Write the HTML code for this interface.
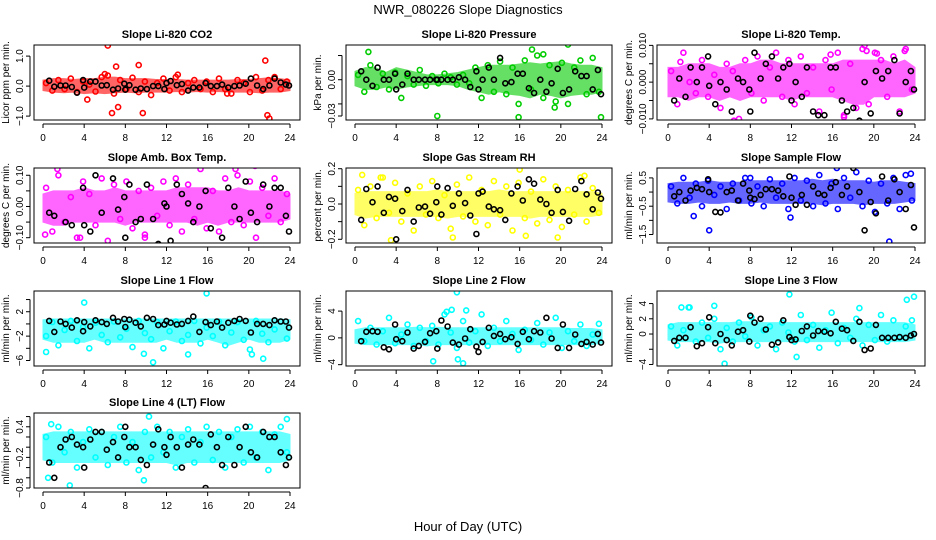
<!DOCTYPE html>
<html><head><meta charset="utf-8">
<style>
html,body{margin:0;padding:0;background:#fff;}
svg{display:block;font-family:"Liberation Sans",sans-serif;}
</style></head>
<body>
<svg id="chart" width="936" height="540" viewBox="0 0 936 540" xmlns="http://www.w3.org/2000/svg">
<text x="468" y="14" font-size="13" text-anchor="middle">NWR_080226  Slope Diagnostics</text>
<text x="468" y="531" font-size="13" text-anchor="middle">Hour of Day (UTC)</text>
</svg>
<script>
const colorHours=[0.3,0.9,1.5,2.1,2.7,3.3,3.9,4.5,5.1,5.7,6.3,6.9,7.5,8.1,8.7,9.3,9.9,10.5,11.1,11.7,12.3,12.9,13.5,14.1,14.7,15.3,15.9,16.5,17.1,17.7,18.3,18.9,19.5,20.1,20.7,21.3,21.9,22.5,23.1,23.7];
const blackHours=[0.6,1.1,1.7,2.2,2.8,3.3,3.9,4.0,4.6,5.1,5.7,6.2,6.8,7.3,7.9,8.0,8.4,9.0,9.5,10.1,10.7,11.2,11.8,12.0,12.4,13.0,13.5,14.1,14.6,15.2,15.8,16.3,16.9,17.4,18.0,18.6,19.1,19.7,20.2,20.8,21.4,22.0,22.5,23.1,23.6,23.9];
const bandHours=[0,1,2,3,4,5,6,7,8,9,10,11,12,13,14,15,16,17,18,19,20,21,22,23,24];
const xTicks=[0,4,8,12,16,20,24];

const co2Color=[0.1,-0.15,0.2,-0.1,0.25,-0.2,0.15,0.05,-0.18,0.3,0.35,-0.25,0.2,-0.1,0.28,-0.2,0.15,-0.3,0.1,0.25,-0.15,0.3,-0.2,0.1,0.2,-0.1,0.15,-0.2,0.25,-0.1,-0.25,0.2,0.1,-0.2,0.3,-0.15,0.2,0.3,-0.1,0.15];
const co2Black=[0.18,-0.02,0.02,0.02,-0.03,-0.22,0.2,-0.05,0.15,0.15,0.02,0.03,-0.12,-0.08,0.08,-0.12,0.03,-0.12,-0.08,-0.1,0.0,0.0,-0.1,0.1,0.17,0.03,0.07,-0.15,-0.05,-0.05,0.1,0.0,0.0,0.05,-0.05,0.0,0.02,0.08,0.25,0.02,-0.1,0.02,0.25,0.12,0.05,0.02];
const co2OutX=[6.3,7.1,9.3,21.6,6.7,9.7,7.3,4.3,21.8,22.0,13.1,6.0,17.9];
const co2OutY=[1.35,0.65,0.7,0.85,-0.9,-0.9,-0.7,-0.45,-0.97,-1.08,0.38,0.4,-0.25];
const co2Lo=[-0.15,-0.2,-0.22,-0.2,-0.25,-0.22,-0.25,-0.22,-0.2,-0.22,-0.2,-0.2,-0.2,-0.18,-0.2,-0.18,-0.2,-0.18,-0.2,-0.2,-0.2,-0.22,-0.2,-0.2,-0.15];
const co2Hi=[0.2,0.25,0.25,0.22,0.25,0.25,0.3,0.3,0.25,0.25,0.25,0.22,0.22,0.22,0.2,0.2,0.2,0.2,0.2,0.22,0.22,0.25,0.28,0.25,0.2];

const presColor=[0.004,-0.01,0.012,-0.006,0.005,-0.008,0.006,-0.015,0.003,-0.004,0.008,-0.005,0.003,-0.003,0.005,0.002,-0.004,0.004,-0.003,0.01,-0.015,0.012,-0.01,0.015,-0.012,0.01,-0.02,0.016,-0.008,0.02,-0.015,0.012,-0.018,0.014,-0.02,0.01,0.016,-0.012,0.018,-0.01];
const presBlack=[0.007,0.0,-0.005,0.01,0.0,0.0,0.005,-0.008,-0.004,0.005,0.0,0.0,0.0,0.0,0.0,0.0,0.0,0.0,0.0,0.002,0.0,-0.006,0.007,-0.008,0.0,0.01,0.0,0.018,-0.003,-0.002,0.005,0.005,-0.007,-0.011,0.0,-0.01,-0.003,0.009,-0.011,-0.008,0.007,0.003,0.003,-0.008,0.008,-0.012];
const presOutX=[1.3,8.0,15.9,23.9,17.2,20.7,19.4,18.3];
const presOutY=[0.023,-0.03,-0.031,-0.031,0.025,0.029,-0.023,0.021];
const presLo=[-0.005,-0.008,-0.008,-0.006,-0.008,-0.006,-0.005,-0.004,-0.004,-0.004,-0.005,-0.008,-0.01,-0.012,-0.01,-0.012,-0.013,-0.015,-0.012,-0.013,-0.015,-0.013,-0.012,-0.012,-0.01];
const presHi=[0.007,0.01,0.01,0.006,0.01,0.008,0.006,0.004,0.004,0.005,0.006,0.008,0.01,0.012,0.012,0.012,0.013,0.014,0.013,0.014,0.015,0.013,0.012,0.012,0.01];

const tempColor=[0.003,-0.006,0.008,0.0,-0.003,0.006,-0.004,0.002,-0.007,0.005,0.003,-0.01,0.006,-0.003,0.007,-0.005,0.004,0.008,-0.004,0.006,-0.006,0.007,-0.003,0.004,-0.008,0.006,-0.002,0.008,-0.009,0.005,-0.007,0.009,-0.006,0.008,0.006,-0.004,0.007,-0.008,0.009,-0.002];
const tempBlack=[-0.005,0.001,-0.004,0.004,0.0,0.004,0.007,-0.001,-0.006,0.0,-0.002,-0.008,0.001,0.0,-0.002,-0.008,0.008,0.001,0.005,0.007,0.001,0.004,0.005,-0.005,0.0,-0.004,0.004,-0.008,-0.009,-0.009,0.004,0.004,-0.005,-0.008,-0.007,-0.0105,0.0,-0.0085,0.003,0.001,0.003,0.006,-0.0085,0.0,0.003,-0.002];
const tempOutX=[6.4,19.1,19.3,17.1,23.0,1.2,15.8,20.3];
const tempOutY=[-0.0105,0.01,0.0085,-0.0095,0.0085,0.0055,0.0075,0.0078];
const tempLo=[-0.004,-0.004,-0.005,-0.004,-0.004,-0.005,-0.004,-0.005,-0.004,-0.004,-0.004,-0.004,-0.005,-0.004,-0.004,-0.004,-0.004,-0.005,-0.006,-0.006,-0.004,-0.004,-0.004,-0.004,-0.003];
const tempHi=[0.004,0.004,0.005,0.005,0.005,0.004,0.004,0.005,0.005,0.006,0.006,0.005,0.005,0.005,0.005,0.005,0.005,0.006,0.006,0.006,0.006,0.006,0.005,0.006,0.004];

const ambColor=[0.06,-0.08,0.1,-0.05,0.03,-0.1,0.08,0.04,-0.06,0.09,-0.11,0.07,-0.04,0.08,-0.07,0.05,-0.09,0.06,-0.03,0.08,-0.06,0.09,-0.08,0.07,-0.04,0.12,-0.07,0.05,-0.08,0.09,-0.05,0.1,-0.06,0.08,-0.1,0.06,-0.03,0.09,-0.05,0.04];
const ambBlack=[-0.02,-0.03,-0.13,-0.05,-0.06,0.15,0.06,-0.06,-0.08,0.1,-0.02,-0.17,0.09,-0.01,0.03,-0.1,0.07,-0.05,-0.04,0.07,-0.04,-0.12,0.01,0.0,-0.11,0.07,0.04,0.01,-0.05,0.0,0.05,-0.07,-0.13,-0.1,0.06,0.0,-0.04,0.08,-0.02,-0.05,0.07,0.0,0.06,0.06,-0.03,-0.08];
const ambOutX=[0.2,2.3,13.9,20.6,6.9,9.9,3.6,18.7,1.4];
const ambOutY=[-0.09,-0.13,0.15,0.13,-0.13,-0.1,-0.1,0.12,0.12];
const ambLo=[-0.05,-0.06,-0.06,-0.05,-0.05,-0.05,-0.05,-0.05,-0.06,-0.05,-0.05,-0.05,-0.05,-0.05,-0.05,-0.06,-0.05,-0.06,-0.05,-0.05,-0.05,-0.05,-0.05,-0.05,-0.04];
const ambHi=[0.04,0.05,0.05,0.05,0.06,0.05,0.05,0.06,0.05,0.05,0.05,0.05,0.05,0.06,0.06,0.06,0.06,0.05,0.05,0.06,0.05,0.05,0.05,0.05,0.04];

const rhColor=[0.08,-0.12,0.1,-0.08,0.15,-0.05,0.12,-0.1,0.06,-0.15,0.1,-0.06,0.13,-0.08,0.05,-0.14,0.11,-0.07,0.15,-0.1,0.08,-0.12,0.13,-0.06,0.1,-0.15,0.12,-0.08,0.07,-0.11,0.14,-0.09,0.1,-0.13,0.08,-0.06,0.15,-0.1,0.09,-0.05];
const rhBlack=[-0.09,0.085,0.01,0.1,-0.05,0.04,0.03,-0.2,-0.04,0.08,-0.1,-0.02,-0.015,-0.055,0.01,0.1,-0.06,0.09,-0.01,0.06,0.005,-0.065,-0.17,0.06,0.07,-0.015,-0.03,-0.035,-0.09,0.06,0.1,0.02,0.14,0.115,0.025,0.0,-0.05,0.08,-0.045,-0.095,0.085,0.13,0.055,-0.03,0.065,0.03];
const rhOutX=[0.7,3.5,9.5,16.0,16.6,19.7,22.3,2.5];
const rhOutY=[0.165,-0.205,-0.19,0.195,-0.18,-0.19,0.16,0.15];
const rhLo=[-0.06,-0.08,-0.07,-0.07,-0.07,-0.07,-0.07,-0.07,-0.07,-0.08,-0.07,-0.07,-0.07,-0.07,-0.07,-0.07,-0.07,-0.08,-0.07,-0.07,-0.07,-0.07,-0.07,-0.07,-0.06];
const rhHi=[0.06,0.07,0.07,0.07,0.07,0.07,0.07,0.07,0.08,0.07,0.07,0.07,0.07,0.07,0.08,0.07,0.07,0.07,0.07,0.07,0.07,0.07,0.07,0.07,0.06];

const sfColor=[0.2,-0.4,0.5,-0.2,0.3,-0.5,0.4,-0.1,0.2,-0.6,0.3,-0.3,0.5,-0.4,0.2,-0.5,0.45,-0.2,0.3,-0.6,0.5,-0.3,0.4,-0.5,0.6,-0.4,0.3,-0.6,0.5,-0.2,0.7,-0.5,0.4,-0.7,0.3,-0.4,0.5,-0.6,0.6,-0.3];
const sfBlack=[-0.15,0.0,-0.3,0.05,0.15,0.1,0.45,0.0,-0.7,-0.72,0.0,0.05,-0.3,0.3,0.05,-0.2,-0.25,-0.1,0.1,0.1,0.05,-0.15,0.55,-0.2,-0.45,-0.1,-0.45,0.2,-0.05,-0.1,0.15,0.35,-0.1,0.2,0.85,0.0,-1.35,-0.35,-0.75,0.55,-0.3,0.45,0.0,-0.6,0.25,-1.25];
const sfOutX=[2.5,4.0,21.5,16.4,23.6,8.0,11.9];
const sfOutY=[-0.85,-1.35,-1.75,0.85,0.65,0.5,-0.9];
const sfLo=[-0.35,-0.4,-0.4,-0.35,-0.4,-0.4,-0.35,-0.4,-0.4,-0.35,-0.4,-0.4,-0.4,-0.4,-0.4,-0.45,-0.4,-0.4,-0.4,-0.45,-0.4,-0.4,-0.4,-0.35,-0.3];
const sfHi=[0.3,0.35,0.35,0.35,0.4,0.35,0.35,0.35,0.4,0.4,0.4,0.4,0.4,0.4,0.45,0.4,0.45,0.4,0.4,0.4,0.35,0.4,0.4,0.35,0.3];

const l1Color=[-2,0.3,-3.5,-1,0.5,-2.8,-0.5,-4,0.2,-1.8,-3,0.4,-2.2,-0.8,-3.8,0.5,-1.5,-2.5,0.3,-4,-1.2,0.4,-2.8,-1.8,0.5,-3.2,-0.6,-2,0.4,-3.5,-1.4,0.3,-2.6,-4.2,0.5,-1.6,-3,-0.9,0.4,-2.4];
const l1Black=[0.5,-1.3,0.4,0.0,-0.6,0.6,-1.2,0.3,-0.4,0.6,0.3,0.0,1.0,0.4,0.8,-0.5,0.7,0.2,-0.4,1.0,0.8,-0.2,-0.1,0.5,0.2,-0.1,0.0,0.5,1.2,-1.3,0.3,-0.2,0.4,-0.6,0.2,0.5,0.8,0.5,-1.4,0.0,0.0,-0.2,0.6,0.4,0.4,-0.6];
const l1OutX=[4.0,15.9,10.7,0.3,21.4,9.8,20.3,14.1];
const l1OutY=[3.5,5.0,-6.3,-4.6,-5.7,-4.9,-5.0,-5.0];
const l1Lo=[-2.5,-3,-3,-3,-3,-2.5,-3,-3,-3,-3,-3,-3,-2.5,-3,-3,-3,-2.5,-3,-3.5,-3,-2.5,-3,-3,-3,-2.5];
const l1Hi=[0.7,0.8,0.8,0.8,0.8,0.8,0.8,0.8,0.8,0.8,0.8,0.8,0.8,0.8,0.8,0.8,0.8,0.8,0.8,0.8,0.8,0.8,0.8,0.8,0.7];

const l2Color=[2.5,-0.5,1.5,-1,1,3,-0.8,0.5,2,-1.2,1.5,-0.5,1.8,-1,3.5,0.8,-1.5,2.5,-0.7,1,3.5,-1.2,1.5,-0.5,2.5,0.6,-1.8,1.2,-0.3,2.2,-1,0.8,3,-1.5,1,-0.5,2,-1.2,0.5,2.1];
const l2Black=[-0.5,0.9,1.0,0.9,-1.4,-1.7,2.0,-0.2,-0.5,0.8,-1.6,-1.2,-0.6,0.7,1.0,-1.6,2.6,1.7,-0.7,-1.0,-0.1,1.3,-1.3,-2.1,-0.6,1.5,0.3,0.6,-0.2,0.1,-0.9,0.9,-0.2,1.0,0.8,3.0,-0.1,-1.5,2.0,-1.5,0.5,-0.9,-0.6,-1.0,0.6,-0.7];
const l2OutX=[9.9,10.5,7.6,10.8,8.9,9.4,10.0];
const l2OutY=[6.8,-3.8,-3.5,4.1,3.9,4.2,-3.2];
const l2Lo=[-0.8,-1,-1,-1,-1,-1,-1,-1.2,-1,-1,-1,-1,-1,-1,-1,-1,-1,-1,-1,-1,-1,-1,-1,-1,-0.8];
const l2Hi=[1.2,1.5,1.5,1.5,1.5,1.5,1.6,1.5,1.6,1.5,1.5,1.5,1.5,1.5,1.5,1.5,1.5,1.5,1.5,1.5,1.5,1.4,1.4,1.4,1.2];

const l3Color=[1,-1.5,0.5,3.5,-1,1.5,-0.5,2,-2,0.8,-1,1.5,-0.3,2.2,-1.5,0.5,1,-2,1.5,0.2,-1,2.5,-0.8,1.2,-1.8,0.5,2.8,-1.2,0.8,-0.5,2,-1.5,1.2,-0.8,2.5,-1,1.8,-0.5,1,1.8];
const l3Black=[-0.9,-0.5,-0.5,0.9,-1.6,-1.2,0.9,2.2,-1.2,0.0,-0.8,-1.5,0.3,0.5,-1.0,2.4,1.5,2.0,0.6,-1.4,-1.1,1.8,-0.4,-0.8,-0.7,0.4,1.0,-0.2,0.4,0.3,0.1,1.6,0.7,0.5,-0.9,1.6,-2.1,-1.9,1.2,-0.5,-0.5,-0.5,-0.4,-0.5,-0.2,0.0];
const l3OutX=[5.5,11.8,18.6,23.2,23.9,1.3,2.0,4.5,12.5];
const l3OutY=[-3.9,5.2,3.4,4.5,4.9,3.5,3.5,3.7,-3.0];
const l3Lo=[-0.8,-1,-1,-1,-1,-1.2,-1,-1,-1,-1,-1,-1,-1,-1,-1,-1,-1,-1,-1,-1,-1,-1,-1,-1,-0.8];
const l3Hi=[1.2,1.5,1.5,1.5,1.5,1.5,1.5,1.6,1.6,1.5,1.5,1.5,1.5,1.5,1.5,1.5,1.5,1.5,1.5,1.5,1.5,1.5,1.5,1.5,1.2];

const l4Color=[0.2,-0.3,0.4,-0.1,0.3,-0.4,0.1,0.35,-0.2,0.3,-0.35,0.2,0.4,-0.3,0.1,-0.45,0.3,-0.2,0.4,-0.1,0.3,-0.4,0.2,0.35,-0.3,0.1,0.4,-0.25,0.3,-0.4,0.2,0.35,-0.3,0.4,-0.2,0.3,-0.45,0.25,0.4,-0.1];
const l4Black=[-0.3,-0.6,0.0,0.15,0.2,0.05,0.0,-0.4,0.15,0.3,0.3,-0.05,0.1,-0.2,0.2,0.4,0.0,0.0,-0.25,-0.35,0.05,0.35,0.0,-0.15,0.2,0.0,-0.4,0.05,0.15,0.05,-0.8,0.25,0.0,-0.35,0.2,-0.35,0.0,0.4,-0.1,-0.2,0.3,0.2,0.2,-0.1,-0.35,-0.2];
const l4OutX=[0.8,10.3,12.0,4.0,2.6,19.9,23.7,9.8,0.5];
const l4OutY=[0.45,0.6,-0.95,-0.88,-0.75,-0.9,0.55,-0.65,-0.6];
const l4Lo=[-0.25,-0.3,-0.3,-0.3,-0.3,-0.3,-0.3,-0.3,-0.3,-0.3,-0.3,-0.3,-0.3,-0.35,-0.3,-0.3,-0.3,-0.3,-0.3,-0.3,-0.3,-0.3,-0.3,-0.3,-0.25];
const l4Hi=[0.25,0.3,0.3,0.3,0.3,0.3,0.3,0.3,0.3,0.3,0.3,0.3,0.3,0.3,0.3,0.3,0.3,0.3,0.3,0.3,0.3,0.3,0.3,0.3,0.25];

const co2Ticks=[-1,0,1], co2Labels=["-1.0","0.0","1.0"];
const presTicks=[-0.03,-0.02,0,0.02], presLabels=["-0.03","","0.00",""];
const tempTicks=[-0.01,-0.005,0,0.005,0.01], tempLabels=["-0.010","","0.000","","0.010"];
const ambTicks=[-0.1,-0.05,0,0.05,0.1], ambLabels=["-0.10","","0.00","","0.10"];
const rhTicks=[-0.2,-0.1,0,0.1,0.2], rhLabels=["-0.2","","0.0","","0.2"];
const sfTicks=[-1.5,-1,-0.5,0,0.5], sfLabels=["-1.5","","-0.5","","0.5"];
const l1Ticks=[-6,-4,-2,0,2,4], l1Labels=["-6","","-2","","2",""];
const l2Ticks=[-4,0,4], l2Labels=["-4","0","4"];
const l3Ticks=[-4,-2,0,2,4], l3Labels=["-4","","0","2","4"];
const l4Ticks=[-0.8,-0.6,-0.4,-0.2,0,0.2,0.4,0.6], l4Labels=["-0.8","","","-0.2","","","0.4",""];

const panels=[
 {name:"co2",title:"Slope Li-820 CO2",ylab:"Licor ppm per min.",col:0,row:0,ymin:-1.13,ymax:1.37,color:"#ff0000",c:co2Color,b:co2Black,ox:co2OutX,oy:co2OutY,lo:co2Lo,hi:co2Hi,t:co2Ticks,tl:co2Labels},
 {name:"pressure",title:"Slope Li-820 Pressure",ylab:"kPa per min.",col:1,row:0,ymin:-0.0333,ymax:0.0287,color:"#00cd00",c:presColor,b:presBlack,ox:presOutX,oy:presOutY,lo:presLo,hi:presHi,t:presTicks,tl:presLabels},
 {name:"li820-temp",title:"Slope Li-820 Temp.",ylab:"degrees C per min.",col:2,row:0,ymin:-0.0103,ymax:0.0101,color:"#ff00ff",c:tempColor,b:tempBlack,ox:tempOutX,oy:tempOutY,lo:tempLo,hi:tempHi,t:tempTicks,tl:tempLabels},
 {name:"amb-box-temp",title:"Slope Amb. Box Temp.",ylab:"degrees C per min.",col:0,row:1,ymin:-0.117,ymax:0.1233,color:"#ff00ff",c:ambColor,b:ambBlack,ox:ambOutX,oy:ambOutY,lo:ambLo,hi:ambHi,t:ambTicks,tl:ambLabels},
 {name:"gas-stream-rh",title:"Slope Gas Stream RH",ylab:"percent per min.",col:1,row:1,ymin:-0.221,ymax:0.204,color:"#ffff00",c:rhColor,b:rhBlack,ox:rhOutX,oy:rhOutY,lo:rhLo,hi:rhHi,t:rhTicks,tl:rhLabels},
 {name:"sample-flow",title:"Slope Sample Flow",ylab:"ml/min per min.",col:2,row:1,ymin:-1.8,ymax:0.85,color:"#0000ff",c:sfColor,b:sfBlack,ox:sfOutX,oy:sfOutY,lo:sfLo,hi:sfHi,t:sfTicks,tl:sfLabels},
 {name:"line1-flow",title:"Slope Line 1 Flow",ylab:"ml/min per min.",col:0,row:2,ymin:-6.9,ymax:5.4,color:"#00ffff",c:l1Color,b:l1Black,ox:l1OutX,oy:l1OutY,lo:l1Lo,hi:l1Hi,t:l1Ticks,tl:l1Labels},
 {name:"line2-flow",title:"Slope Line 2 Flow",ylab:"ml/min per min.",col:1,row:2,ymin:-4.2,ymax:7.0,color:"#00ffff",c:l2Color,b:l2Black,ox:l2OutX,oy:l2OutY,lo:l2Lo,hi:l2Hi,t:l2Ticks,tl:l2Labels},
 {name:"line3-flow",title:"Slope Line 3 Flow",ylab:"ml/min per min.",col:2,row:2,ymin:-4.2,ymax:5.65,color:"#00ffff",c:l3Color,b:l3Black,ox:l3OutX,oy:l3OutY,lo:l3Lo,hi:l3Hi,t:l3Ticks,tl:l3Labels},
 {name:"line4-flow",title:"Slope Line 4 (LT) Flow",ylab:"ml/min per min.",col:0,row:3,ymin:-0.8,ymax:0.67,color:"#00ffff",c:l4Color,b:l4Black,ox:l4OutX,oy:l4OutY,lo:l4Lo,hi:l4Hi,t:l4Ticks,tl:l4Labels}
];

const NS="http://www.w3.org/2000/svg";
const svg=document.getElementById("chart");
const boxL=[34,346,657], boxR=[300,612,925], x0=[43,355,668], x24=[290,602,915];
const boxT=[45,168,291,413], boxH=75;
function mk(tag,attrs,parent){const e=document.createElementNS(NS,tag);for(const k in attrs)e.setAttribute(k,attrs[k]);(parent||svg).appendChild(e);return e;}

panels.forEach(p=>{
  const L=boxL[p.col],R=boxR[p.col],T=boxT[p.row],B=T+boxH;
  const xs=h=>x0[p.col]+(x24[p.col]-x0[p.col])*h/24;
  const ys=v=>B-(v-p.ymin)/(p.ymax-p.ymin)*boxH;
  const g=mk("g",{});
  
  
  const clipId="clip-"+p.name;
  const cp=mk("clipPath",{id:clipId},g);
  mk("rect",{x:L,y:T,width:R-L,height:boxH},cp);
  const title=mk("text",{x:(L+R)/2,y:T-7,"font-size":"11","font-weight":"bold","text-anchor":"middle"},g);
  title.textContent=p.title;
  
  
  const yl=mk("text",{x:0,y:0,"font-size":"10","text-anchor":"middle",transform:`translate(${L-25},${(T+B)/2}) rotate(-90)`},g);
  yl.textContent=p.ylab;
  
  
  const plot=mk("g",{"clip-path":`url(#${clipId})`},g);
  
  
  let d="";
  bandHours.forEach((h,i)=>{d+=(i?"L":"M")+xs(h).toFixed(1)+","+ys(p.hi[i]).toFixed(1);});
  for(let i=bandHours.length-1;i>=0;i--)d+="L"+xs(bandHours[i]).toFixed(1)+","+ys(p.lo[i]).toFixed(1);
  const band=mk("path",{d:d+"Z",fill:p.color,stroke:p.color,"stroke-width":"1","opacity":"0.6"},plot);
  
  
  const pt=(x,y,col,nm)=>{const c=mk("circle",{cx:xs(x).toFixed(1),cy:ys(y).toFixed(1),r:"2.5",fill:"none",stroke:col,"stroke-width":"1.6"},plot);
    
    };
  colorHours.forEach((h,i)=>pt(h,p.c[i],p.color,'point'));
  p.ox.forEach((h,i)=>pt(h,p.oy[i],p.color,'outlier-point'));
  blackHours.forEach((h,i)=>pt(h,p.b[i],"#000","reference-point"));
  const box=mk("rect",{x:L,y:T,width:R-L,height:boxH,fill:"none",stroke:"#000","stroke-width":"1"},g);
  
  
  const xa=mk("g",{},g);
  
  
  mk("line",{x1:xs(0),x2:xs(24),y1:B+4,y2:B+4,stroke:"#000"},xa);
  xTicks.forEach(t=>{mk("line",{x1:xs(t),x2:xs(t),y1:B+4,y2:B+8,stroke:"#000"},xa);
    const tx=mk("text",{x:xs(t),y:B+21,"font-size":"10","text-anchor":"middle"},xa);tx.textContent=t;
    
    });
  const ya=mk("g",{},g);
  
  
  mk("line",{x1:L-4,x2:L-4,y1:ys(p.t[0]),y2:ys(p.t[p.t.length-1]),stroke:"#000"},ya);
  p.t.forEach((t,i)=>{mk("line",{x1:L-8,x2:L-4,y1:ys(t),y2:ys(t),stroke:"#000"},ya);
    if(p.tl[i]){const tx=mk("text",{x:0,y:0,"font-size":"10","text-anchor":"middle",transform:`translate(${L-11},${ys(t)}) rotate(-90)`},ya);tx.textContent=p.tl[i].replace("-","\u2212");
    
    }});
});
</script>
</body></html>
